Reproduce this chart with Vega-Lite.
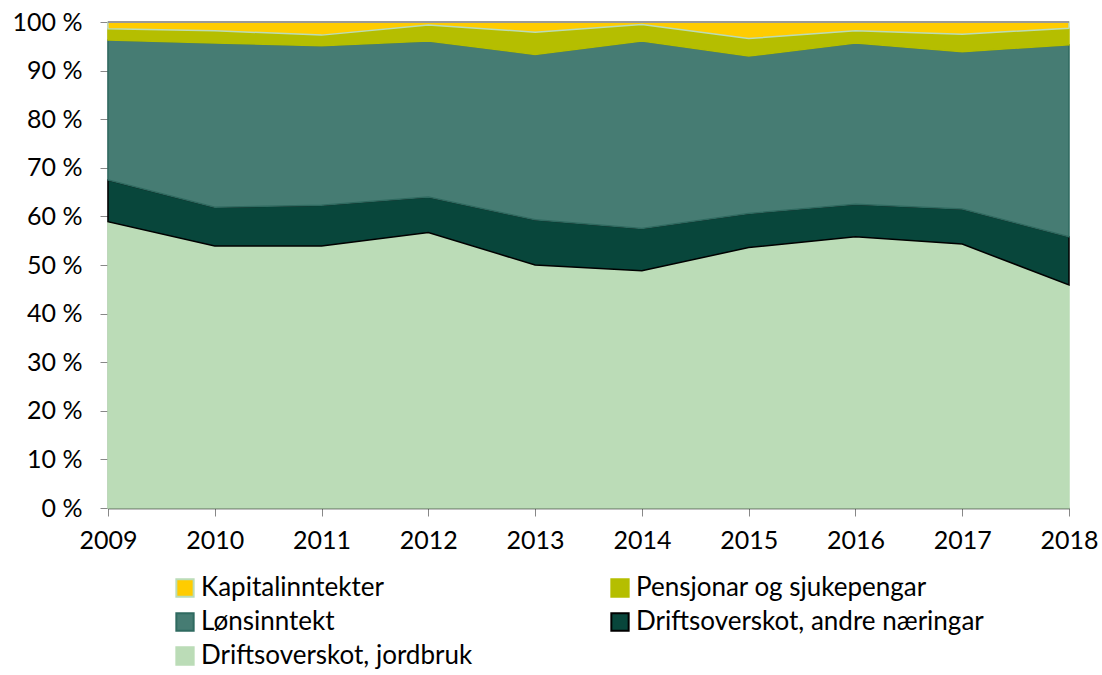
{
  "$schema": "https://vega.github.io/schema/vega-lite/v6.json",
  "autosize": "none",
  "padding": {"left": 108, "top": 22, "right": 33, "bottom": 167},
  "width": 961,
  "height": 486,
  "config": {"view": {"stroke": null}, "font": "Lato"},
  "data": {"values": [
    {"year": 2009, "series": "Driftsoverskot, jordbruk", "o": 1, "v": 58.9},
    {"year": 2010, "series": "Driftsoverskot, jordbruk", "o": 1, "v": 53.9},
    {"year": 2011, "series": "Driftsoverskot, jordbruk", "o": 1, "v": 53.9},
    {"year": 2012, "series": "Driftsoverskot, jordbruk", "o": 1, "v": 56.7},
    {"year": 2013, "series": "Driftsoverskot, jordbruk", "o": 1, "v": 50.0},
    {"year": 2014, "series": "Driftsoverskot, jordbruk", "o": 1, "v": 48.8},
    {"year": 2015, "series": "Driftsoverskot, jordbruk", "o": 1, "v": 53.6},
    {"year": 2016, "series": "Driftsoverskot, jordbruk", "o": 1, "v": 55.8},
    {"year": 2017, "series": "Driftsoverskot, jordbruk", "o": 1, "v": 54.3},
    {"year": 2018, "series": "Driftsoverskot, jordbruk", "o": 1, "v": 45.9},
    {"year": 2009, "series": "Driftsoverskot, andre næringar", "o": 2, "v": 8.6},
    {"year": 2010, "series": "Driftsoverskot, andre næringar", "o": 2, "v": 8.0},
    {"year": 2011, "series": "Driftsoverskot, andre næringar", "o": 2, "v": 8.4},
    {"year": 2012, "series": "Driftsoverskot, andre næringar", "o": 2, "v": 7.3},
    {"year": 2013, "series": "Driftsoverskot, andre næringar", "o": 2, "v": 9.3},
    {"year": 2014, "series": "Driftsoverskot, andre næringar", "o": 2, "v": 8.7},
    {"year": 2015, "series": "Driftsoverskot, andre næringar", "o": 2, "v": 7.0},
    {"year": 2016, "series": "Driftsoverskot, andre næringar", "o": 2, "v": 6.7},
    {"year": 2017, "series": "Driftsoverskot, andre næringar", "o": 2, "v": 7.2},
    {"year": 2018, "series": "Driftsoverskot, andre næringar", "o": 2, "v": 9.9},
    {"year": 2009, "series": "Lønsinntekt", "o": 3, "v": 28.8},
    {"year": 2010, "series": "Lønsinntekt", "o": 3, "v": 33.8},
    {"year": 2011, "series": "Lønsinntekt", "o": 3, "v": 32.8},
    {"year": 2012, "series": "Lønsinntekt", "o": 3, "v": 32.1},
    {"year": 2013, "series": "Lønsinntekt", "o": 3, "v": 34.0},
    {"year": 2014, "series": "Lønsinntekt", "o": 3, "v": 38.6},
    {"year": 2015, "series": "Lønsinntekt", "o": 3, "v": 32.4},
    {"year": 2016, "series": "Lønsinntekt", "o": 3, "v": 33.2},
    {"year": 2017, "series": "Lønsinntekt", "o": 3, "v": 32.4},
    {"year": 2018, "series": "Lønsinntekt", "o": 3, "v": 39.5},
    {"year": 2009, "series": "Pensjonar og sjukepengar", "o": 4, "v": 2.3},
    {"year": 2010, "series": "Pensjonar og sjukepengar", "o": 4, "v": 2.5},
    {"year": 2011, "series": "Pensjonar og sjukepengar", "o": 4, "v": 2.2},
    {"year": 2012, "series": "Pensjonar og sjukepengar", "o": 4, "v": 3.3},
    {"year": 2013, "series": "Pensjonar og sjukepengar", "o": 4, "v": 4.6},
    {"year": 2014, "series": "Pensjonar og sjukepengar", "o": 4, "v": 3.4},
    {"year": 2015, "series": "Pensjonar og sjukepengar", "o": 4, "v": 3.6},
    {"year": 2016, "series": "Pensjonar og sjukepengar", "o": 4, "v": 2.5},
    {"year": 2017, "series": "Pensjonar og sjukepengar", "o": 4, "v": 3.6},
    {"year": 2018, "series": "Pensjonar og sjukepengar", "o": 4, "v": 3.4},
    {"year": 2009, "series": "Kapitalinntekter", "o": 5, "v": 1.4},
    {"year": 2010, "series": "Kapitalinntekter", "o": 5, "v": 1.8},
    {"year": 2011, "series": "Kapitalinntekter", "o": 5, "v": 2.7},
    {"year": 2012, "series": "Kapitalinntekter", "o": 5, "v": 0.6},
    {"year": 2013, "series": "Kapitalinntekter", "o": 5, "v": 2.1},
    {"year": 2014, "series": "Kapitalinntekter", "o": 5, "v": 0.5},
    {"year": 2015, "series": "Kapitalinntekter", "o": 5, "v": 3.4},
    {"year": 2016, "series": "Kapitalinntekter", "o": 5, "v": 1.8},
    {"year": 2017, "series": "Kapitalinntekter", "o": 5, "v": 2.5},
    {"year": 2018, "series": "Kapitalinntekter", "o": 5, "v": 1.3}
  ]},
  "layer": [
    {
      "mark": {"type": "area", "strokeWidth": 1.5, "interpolate": "linear"},
      "encoding": {
        "x": {"field": "year", "type": "quantitative", "scale": {"domain": [2009, 2018], "nice": false, "zero": false},
          "axis": {"title": null, "values": [2009, 2010, 2011, 2012, 2013, 2014, 2015, 2016, 2017, 2018], "format": "d",
            "labelFontSize": 25, "labelColor": "#000", "labelPadding": 12, "tickSize": 8, "tickColor": "#888",
            "domainColor": "#000", "domainWidth": 1.5, "grid": false, "labelFlush": false}},
        "y": {"field": "v", "type": "quantitative", "stack": "zero", "scale": {"domain": [0, 100], "nice": false},
          "axis": {"title": null, "values": [0, 10, 20, 30, 40, 50, 60, 70, 80, 90, 100], "labelExpr": "datum.value + ' %'",
            "labelFontSize": 25, "labelColor": "#000", "labelPadding": 18, "tickSize": 8, "tickColor": "#888",
            "domainColor": "#333", "domainWidth": 1.5, "grid": false}},
        "order": {"field": "o", "type": "quantitative"},
        "fill": {"field": "series", "type": "nominal",
          "scale": {"domain": ["Kapitalinntekter", "Pensjonar og sjukepengar", "Lønsinntekt", "Driftsoverskot, andre næringar", "Driftsoverskot, jordbruk"],
            "range": ["#ffcc00", "#b5be00", "#467c73", "#08463b", "#bbdcb7"]},
          "legend": {"title": null, "orient": "none", "legendX": 64, "legendY": 553, "columns": 2, "direction": "horizontal",
            "symbolType": "square", "symbolSize": 300, "symbolStrokeWidth": 2, "labelFontSize": 26, "labelColor": "#000",
            "labelOffset": 3, "rowPadding": 8, "columnPadding": 134, "labelLimit": 500, "gridAlign": "each"}},
        "stroke": {"field": "series", "type": "nominal",
          "scale": {"domain": ["Kapitalinntekter", "Pensjonar og sjukepengar", "Lønsinntekt", "Driftsoverskot, andre næringar", "Driftsoverskot, jordbruk"],
            "range": ["#bbdcb7", "#b5be00", "#2f6a60", "#000000", "#bbdcb7"]}}
      }
    },
    {
      "mark": {"type": "rule", "color": "#999", "strokeWidth": 2},
      "encoding": {"y": {"datum": 100}}
    }
  ]
}
